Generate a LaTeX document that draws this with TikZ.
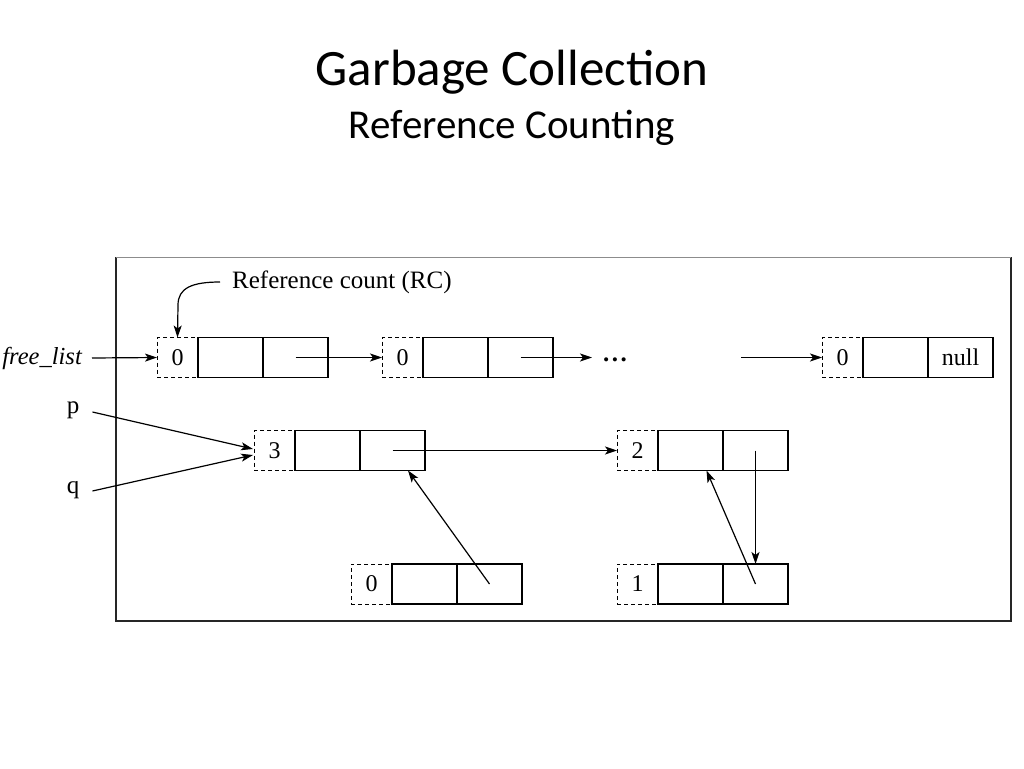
\documentclass[tikz,border=0pt]{standalone}
\usepackage{fontspec}
\setmainfont{Liberation Serif}
\newfontfamily\titlefont{Carlito}
\usetikzlibrary{arrows.meta}
\begin{document}
\begin{tikzpicture}[x=1pt,y=-1pt,
  rc/.style={draw, dashed, dash pattern=on 4pt off 3pt, line width=1pt, minimum width=41pt, minimum height=40pt, inner sep=0pt, outer sep=0pt, font=\fontsize{24}{26}\selectfont},
  cell/.style={draw, line width=1.3pt, minimum width=65pt, minimum height=40pt, inner sep=0pt, outer sep=0pt, font=\fontsize{24}{26}\selectfont},
  lbl/.style={inner sep=0pt, font=\fontsize{25}{27}\selectfont},
  ptr/.style={line width=1.2pt, -{Stealth[length=12pt,width=8pt,inset=3pt]}},
  line cap=butt]
\useasboundingbox (0,0) rectangle (1024,768);
% title
\node[font=\titlefont\fontsize{51}{56}\selectfont] (title) at (512,72) {Garbage Collection};
\node[font=\titlefont\fontsize{41}{46}\selectfont] (subtitle) at (512,128) {Reference Counting};
% frame
\draw[line width=1.3pt, black!85] (1011,257) -- (1011,621) -- (116,621) -- (116,257);
\draw[line width=1pt, black!45] (116,257) -- (1011,257);
% row 1
\node[rc] (n1r) at (177.5,357.5) {0};
\node[cell, anchor=west] (n1a) at (n1r.east) {};
\node[cell, anchor=west] (n1b) at (n1a.east) {};
\node[rc] (n2r) at (402.5,357.5) {0};
\node[cell, anchor=west] (n2a) at (n2r.east) {};
\node[cell, anchor=west] (n2b) at (n2a.east) {};
\node[lbl, anchor=base west, font=\bfseries\fontsize{25}{27}\selectfont] (dots) at (603,361) {.\kern2.5pt.\kern2.5pt.};
\coordinate (dotsin) at (592,357.5);
\coordinate (gap) at (741,357.5);
\node[rc] (n3r) at (842.5,357.5) {0};
\node[cell, anchor=west] (n3a) at (n3r.east) {};
\node[cell, anchor=west] (n3b) at (n3a.east) {null};
% row 2
\node[rc] (ar) at (274.5,450.5) {3};
\node[cell, anchor=west] (aa) at (ar.east) {};
\node[cell, anchor=west] (ab) at (aa.east) {};
\node[rc] (br) at (637.5,450.5) {2};
\node[cell, anchor=west] (ba) at (br.east) {};
\node[cell, anchor=west] (bb) at (ba.east) {};
% row 3
\node[rc] (cr) at (371.5,584) {0};
\node[cell, anchor=west] (ca) at (cr.east) {};
\node[cell, anchor=west] (cb) at (ca.east) {};
\node[rc] (dr) at (637.5,584) {1};
\node[cell, anchor=west] (da) at (dr.east) {};
\node[cell, anchor=west] (db) at (da.east) {};
% labels
\node[lbl, anchor=east, font=\itshape\fontsize{24.5}{26}\selectfont] (fl) at (82,358) {free\_list};
\node[lbl, anchor=west] (rcl) at (232,282) {Reference count (RC)};
\node[lbl] (p) at (73,410) {p};
\node[lbl] (q) at (73,490) {q};
% connectors
\draw[ptr] ([xshift=10pt]fl.east) -- (n1r.west);
\draw[ptr] ([xshift=-12pt]rcl.west) .. controls (192,282) and (178,288) .. (178,305) -- (n1r.north);
\draw[ptr] (n1b.center) -- (n2r.west);
\draw[ptr] (n2b.center) -- (dotsin);
\draw[ptr] (gap) -- (n3r.west);
\draw[ptr] ([xshift=13pt,yshift=-2pt]p.east) -- ([xshift=-1pt,yshift=1.5pt]ar.west);
\draw[ptr] ([xshift=13pt,yshift=-1pt]q.east) -- ([xshift=-1pt,yshift=-4.5pt]ar.west);
\draw[ptr] (ab.center) -- (br.west);
\draw[ptr] (cb.center) -- ([xshift=15.5pt]ab.south);
\draw[ptr] (bb.center) -- (db.north);
\draw[ptr] (db.center) -- ([xshift=16pt]ba.south);
\end{tikzpicture}
\end{document}
